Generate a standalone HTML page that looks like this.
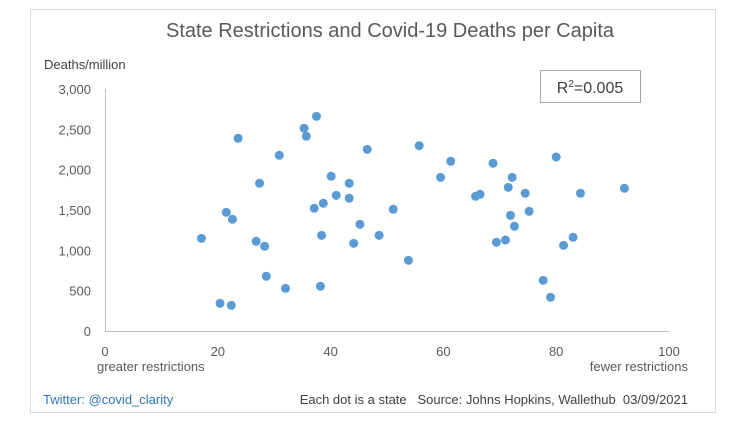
<!DOCTYPE html>
<html><head><meta charset="utf-8"><style>
body{margin:0;background:#fff;width:736px;height:424px;overflow:hidden;font-family:"Liberation Sans",sans-serif}
svg text{font-family:"Liberation Sans",sans-serif}
</style></head><body>
<svg id="chart" width="736" height="424" viewBox="0 0 736 424">
<rect x="30.5" y="9.5" width="685" height="403" fill="#fff" stroke="#d9d9d9"/>
<text x="390" y="37" text-anchor="middle" font-size="20" fill="#595959">State Restrictions and Covid-19 Deaths per Capita</text>
<text x="44" y="69" font-size="13" fill="#404040">Deaths/million</text>
<rect x="540.5" y="70.5" width="100" height="32" fill="#fff" stroke="#a6a6a6"/>
<text x="590" y="93" text-anchor="middle" font-size="16" fill="#404040">R<tspan font-size="10" dy="-6">2</tspan><tspan dy="6">=0.005</tspan></text>
<line x1="105.5" y1="89" x2="105.5" y2="331" stroke="#bfbfbf"/>
<line x1="105" y1="331.5" x2="669" y2="331.5" stroke="#bfbfbf"/>
<g id="yt"></g><g id="xt"></g><g id="pts"></g>
<text x="97" y="371" font-size="13" fill="#595959">greater restrictions</text>
<text x="688" y="371" text-anchor="end" font-size="13" fill="#595959">fewer restrictions</text>
<text x="43" y="404" font-size="13" fill="#2e75b6">Twitter: @covid_clarity</text>
<text x="688" y="404" text-anchor="end" font-size="13" fill="#404040" style="white-space:pre" xml:space="preserve">Each dot is a state   Source: Johns Hopkins, Wallethub  03/09/2021</text>
</svg>
<script>
const xTicks=[0,20,40,60,80,100];
const yTicks=[0,500,1000,1500,2000,2500,3000];
const xVals=[23.6,37.5,35.3,35.7,30.9,46.5,27.4,40.1,43.3,41.0,43.3,38.7,37.1,51.1,21.5,22.6,45.2,17.1,26.8,28.3,38.4,44.1,48.6,53.8,28.6,32.0,38.2,20.4,22.4,55.7,61.3,59.5,68.8,80.0,72.2,71.5,74.5,65.7,66.5,84.3,92.1,71.9,75.2,72.6,69.4,71.0,81.3,83.0,77.7,79.0];
const yVals=[2389,2661,2513,2414,2178,2252,1831,1918,1831,1682,1645,1583,1521,1509,1471,1385,1323,1149,1112,1050,1186,1087,1186,876,678,529,554,343,318,2297,2104,1905,2079,2157,1905,1781,1707,1670,1695,1707,1769,1434,1484,1298,1100,1128,1062,1162,628,418];
const NS='http://www.w3.org/2000/svg';
const sx=v=>105+v*5.64, sy=v=>331-v*242/3000;
const yt=document.getElementById('yt'),xt=document.getElementById('xt'),pts=document.getElementById('pts');
yTicks.forEach(v=>{const t=document.createElementNS(NS,'text');


t.setAttribute('x',91);t.setAttribute('y',sy(v)+5);t.setAttribute('text-anchor','end');t.setAttribute('font-size','13');t.setAttribute('fill','#595959');t.textContent=v.toLocaleString('en-US');yt.appendChild(t);});
xTicks.forEach(v=>{const t=document.createElementNS(NS,'text');


t.setAttribute('x',sx(v));t.setAttribute('y',356);t.setAttribute('text-anchor','middle');t.setAttribute('font-size','13');t.setAttribute('fill','#595959');t.textContent=v;xt.appendChild(t);});
xVals.forEach((v,i)=>{const c=document.createElementNS(NS,'circle');


c.setAttribute('cx',sx(v));c.setAttribute('cy',sy(yVals[i]));c.setAttribute('r',4.5);c.setAttribute('fill','#5b9bd5');pts.appendChild(c);});
</script>
</body></html>
